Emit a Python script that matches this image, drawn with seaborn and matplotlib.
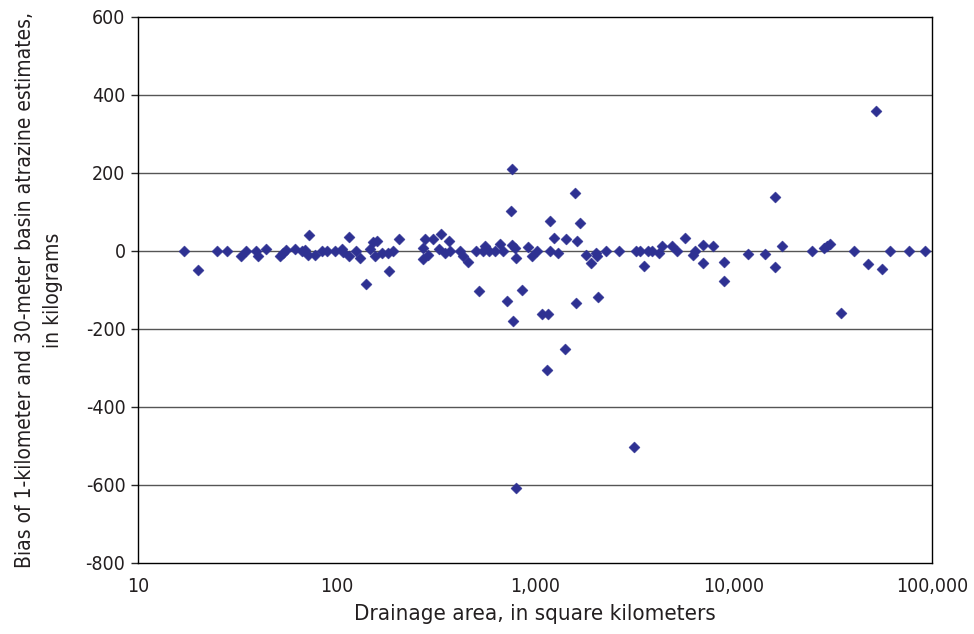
import numpy as np
import pandas as pd
import matplotlib.pyplot as plt
import matplotlib.ticker as mticker
import seaborn as sns

# drainage area (sq km) and bias (kg)
area_small = [17.1, 20.1, 25.1, 28.2, 32.9, 35.0, 39.3, 40.1, 44.1, 51.9, 54.0, 55.7,
              61.8, 66.8, 72.9, 72.1, 69.0, 78.0, 84.2, 89.9, 98.3, 106, 108, 115.6,
              115.6, 126, 131, 140.8, 147.4, 152, 160.5, 156, 169, 182, 184.6, 192, 207]
bias_small = [0, -48, 0, 0, -14, 0, 0, -14, 5, -13, -4, 3,
              4, 0, 41, -10, 3, -10, 0, 0, 0, 4, -3, 35,
              -13, 0, -19, -85, 4, 24, 26, -13, -4, -4, -50, 0, 30]

area_mid = [279, 273.6, 271.7, 290, 305, 335, 329.6, 352, 367.6, 373, 419, 435, 458,
            504.5, 520, 560, 549, 589, 629, 666, 692, 720, 757, 762, 762, 792, 802,
            778, 857, 925, 962, 1019, 1081, 1158, 1190, 1190, 1251, 1300, 1427, 1595,
            1690, 1633, 1610, 1807, 1909, 2029, 2046, 2069, 2279, 2640]
bias_mid = [31, 7, -21, -10, 30, 44, 4, -6, 26, 0, 0, -14, -27,
            0, -103, 13, 0, 0, 0, 18, 0, -127, 103, 210, 15, 7, -19,
            -180, -100, 9, -14, 0, -162, -162, 78, 0, 34, -4, 31, 150,
            72, 26, -134, -10, -32, -4, -13, -117, 0, 0]

area_large = [3228, 3381, 3553, 3726, 3870, 4227, 4347, 4877, 5207, 5715, 6223, 6395,
              6995, 7047, 7852, 8988, 8988, 11880, 14420, 16190, 16230, 17490, 24850,
              28560, 29460, 30620, 34670, 40450, 47430, 56200, 61440, 76850, 92200, 52240]
bias_large = [0, 0, -38, 0, 0, -4, 13, 13, 0, 33, -10, 0,
              -30, 16, 14, -29, -77, -7, -7, 139, -42, 13, 0,
              7, 13, 18, -158, 0, -34, -47, 0, 0, 0, 359]

area_outliers = [1422, 1146, 3154, 802]
bias_outliers = [-251, -305, -502, -607]

y_ticks = [-800, -600, -400, -200, 0, 200, 400, 600]
x_ticks = [10, 100, 1000, 10000, 100000]

df = pd.DataFrame({
    "area": area_small + area_mid + area_large + area_outliers,
    "bias": bias_small + bias_mid + bias_large + bias_outliers,
})

sns.set_style("white")
plt.rcParams['font.family'] = ['DejaVu Sans']
plt.rcParams['font.stretch'] = 'condensed'
plt.rcParams['axes.unicode_minus'] = False
text_color = "#231F20"

fig = plt.figure(figsize=(9.74, 6.34), dpi=100)
ax = fig.add_axes([138 / 974, 1 - 563 / 634, (932 - 138) / 974, (563 - 17) / 634])

# horizontal gridlines between the frame edges
for y in y_ticks[1:-1]:
    ax.axhline(y, color="#555555", lw=1.0, zorder=1)

sns.scatterplot(data=df, x="area", y="bias", ax=ax, marker="D", s=32,
                color="#2E3192", edgecolor="#2E3192", linewidth=0.3, zorder=3)

ax.set_xscale("log")
ax.set_xlim(10, 100000)
ax.set_ylim(-800, 600)
ax.set_xticks(x_ticks)
ax.xaxis.set_minor_locator(mticker.NullLocator())
ax.xaxis.set_major_formatter(mticker.FuncFormatter(lambda v, p: f"{int(v):,}"))
ax.set_yticks(y_ticks)

for s in ax.spines.values():
    s.set_color("black")
    s.set_linewidth(1.0)

ax.tick_params(axis="y", direction="out", length=5, width=1, labelsize=14, pad=4,
               left=True, labelcolor=text_color)
ax.tick_params(axis="x", length=0, labelsize=14, pad=10, labelcolor=text_color)

ax.set_xlabel("Drainage area, in square kilometers", fontsize=16, labelpad=6,
              color=text_color)
ax.set_ylabel("Bias of 1-kilometer and 30-meter basin atrazine estimates,\nin kilograms",
              fontsize=15, labelpad=16, color=text_color, linespacing=1.55)

plt.savefig("out.png", dpi=100)
